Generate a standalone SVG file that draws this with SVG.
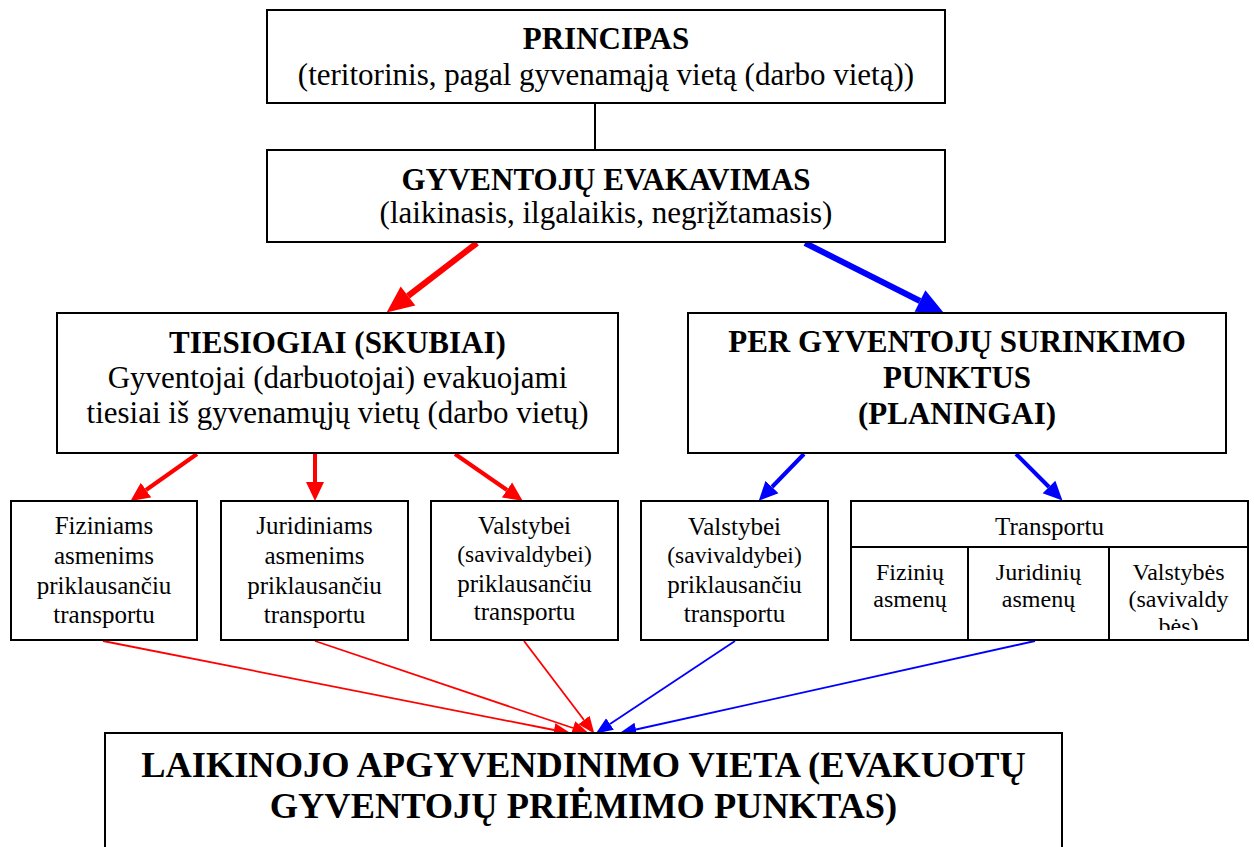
<svg xmlns="http://www.w3.org/2000/svg" width="1254" height="847" viewBox="0 0 1254 847">
<style>
.box{fill:#fff;stroke:#000;stroke-width:2}
.ln{stroke:#000;stroke-width:2}
text{font-family:"Liberation Serif","Times New Roman",serif;fill:#000;text-anchor:middle}
.b31{font-size:31px;font-weight:bold}
.r31{font-size:31px}
.b36{font-size:36.4px;font-weight:bold}
.s25{font-size:25px}
.s24{font-size:24px}
.s23{font-size:23.5px}
.rT{stroke:#f00;stroke-width:6;fill:none}
.bT{stroke:#00f;stroke-width:6;fill:none}
.rM{stroke:#f00;stroke-width:4;fill:none}
.bM{stroke:#00f;stroke-width:4;fill:none}
.rS{stroke:#f00;stroke-width:1.8;fill:none}
.bS{stroke:#00f;stroke-width:1.8;fill:none}
</style>
<defs>
<marker id="hRL" markerUnits="userSpaceOnUse" markerWidth="30" markerHeight="26" viewBox="0 -13 28 26" refX="0" refY="0" orient="auto"><path d="M0,-12 L27,0 L0,12 z" fill="#f00"/></marker>
<marker id="hBL" markerUnits="userSpaceOnUse" markerWidth="30" markerHeight="26" viewBox="0 -13 28 26" refX="0" refY="0" orient="auto"><path d="M0,-12 L27,0 L0,12 z" fill="#00f"/></marker>
<marker id="hRM" markerUnits="userSpaceOnUse" markerWidth="20" markerHeight="20" viewBox="0 -10 20 20" refX="0" refY="0" orient="auto"><path d="M0,-9 L19,0 L0,9 z" fill="#f00"/></marker>
<marker id="hBM" markerUnits="userSpaceOnUse" markerWidth="20" markerHeight="20" viewBox="0 -10 20 20" refX="0" refY="0" orient="auto"><path d="M0,-9 L19,0 L0,9 z" fill="#00f"/></marker>
<marker id="hRS" markerUnits="userSpaceOnUse" markerWidth="18" markerHeight="16" viewBox="0 -8 18 16" refX="0" refY="0" orient="auto"><path d="M0,-7 L17,0 L0,7 z" fill="#f00"/></marker>
<marker id="hBS" markerUnits="userSpaceOnUse" markerWidth="18" markerHeight="16" viewBox="0 -8 18 16" refX="0" refY="0" orient="auto"><path d="M0,-7 L17,0 L0,7 z" fill="#00f"/></marker>
<clipPath id="clipV"><rect x="1109" y="547" width="139" height="83"/></clipPath>
</defs>

<g id="connectors">
<line class="ln" x1="595" y1="103" x2="595" y2="150"/>
<line class="rT" x1="477" y1="243" x2="408" y2="296" marker-end="url(#hRL)"/>
<line class="bT" x1="805" y1="243" x2="920" y2="301" marker-end="url(#hBL)"/>
<line class="rM" x1="197" y1="454" x2="146" y2="490" marker-end="url(#hRM)"/>
<line class="rM" x1="315" y1="454" x2="315" y2="482" marker-end="url(#hRM)"/>
<line class="rM" x1="455" y1="454" x2="507" y2="490" marker-end="url(#hRM)"/>
<line class="bM" x1="804" y1="454" x2="772" y2="487" marker-end="url(#hBM)"/>
<line class="bM" x1="1016" y1="454" x2="1049" y2="487" marker-end="url(#hBM)"/>
<line class="rS" x1="103" y1="641" x2="554" y2="730" marker-end="url(#hRS)"/>
<line class="rS" x1="315" y1="641" x2="573" y2="728" marker-end="url(#hRS)"/>
<line class="rS" x1="524" y1="641" x2="584" y2="720" marker-end="url(#hRS)"/>
<line class="bS" x1="735" y1="641" x2="610" y2="724" marker-end="url(#hBS)"/>
<line class="bS" x1="1035" y1="641" x2="636" y2="729.5" marker-end="url(#hBS)"/>
</g>

<g id="principas">
<rect class="box" x="267" y="10" width="678" height="93"/>
<text class="b31" x="606" y="49">PRINCIPAS</text>
<text class="r31" x="606" y="85">(teritorinis, pagal gyvenamąją vietą (darbo vietą))</text>
</g>

<g id="evakavimas">
<rect class="box" x="267" y="150" width="678" height="92"/>
<text class="b31" x="606" y="190">GYVENTOJŲ EVAKAVIMAS</text>
<text class="r31" x="606" y="223">(laikinasis, ilgalaikis, negrįžtamasis)</text>
</g>

<g id="tiesiogiai">
<rect class="box" x="57" y="313" width="561" height="140"/>
<text class="b31" x="337.5" y="353">TIESIOGIAI (SKUBIAI)</text>
<text class="r31" x="337.5" y="388">Gyventojai (darbuotojai) evakuojami</text>
<text class="r31" x="337.5" y="423">tiesiai iš gyvenamųjų vietų (darbo vietų)</text>
</g>

<g id="planingai">
<rect class="box" x="688" y="313" width="538" height="140"/>
<text class="b31" x="957" y="352">PER GYVENTOJŲ SURINKIMO</text>
<text class="b31" x="957" y="388">PUNKTUS</text>
<text class="b31" x="957" y="424">(PLANINGAI)</text>
</g>

<g id="fiziniams">
<rect class="box" x="11" y="501" width="186" height="139"/>
<text class="s25" x="104" y="534">Fiziniams</text>
<text class="s25" x="104" y="564">asmenims</text>
<text class="s25" x="104" y="594">priklausančiu</text>
<text class="s25" x="104" y="623">transportu</text>
</g>

<g id="juridiniams">
<rect class="box" x="221" y="501" width="187" height="139"/>
<text class="s25" x="314.5" y="534">Juridiniams</text>
<text class="s25" x="314.5" y="564">asmenims</text>
<text class="s25" x="314.5" y="594">priklausančiu</text>
<text class="s25" x="314.5" y="623">transportu</text>
</g>

<g id="valstybei1">
<rect class="box" x="431" y="501" width="187" height="139"/>
<text class="s25" x="524.5" y="534">Valstybei</text>
<text class="s23" x="524.5" y="562">(savivaldybei)</text>
<text class="s25" x="524.5" y="592">priklausančiu</text>
<text class="s25" x="524.5" y="620">transportu</text>
</g>

<g id="valstybei2">
<rect class="box" x="641" y="501" width="187" height="139"/>
<text class="s25" x="734.5" y="535">Valstybei</text>
<text class="s23" x="734.5" y="563">(savivaldybei)</text>
<text class="s25" x="734.5" y="593">priklausančiu</text>
<text class="s25" x="734.5" y="622">transportu</text>
</g>

<g id="transportu">
<rect class="box" x="851" y="501" width="397" height="139"/>
<line class="ln" x1="851" y1="547" x2="1248" y2="547"/>
<line class="ln" x1="968" y1="547" x2="968" y2="640"/>
<line class="ln" x1="1109" y1="547" x2="1109" y2="640"/>
<text class="s25" x="1049.5" y="535">Transportu</text>
<text class="s24" x="910" y="580">Fizinių</text>
<text class="s24" x="910" y="607">asmenų</text>
<text class="s24" x="1038.5" y="580">Juridinių</text>
<text class="s24" x="1038.5" y="607">asmenų</text>
<g clip-path="url(#clipV)">
<text class="s24" x="1178.5" y="580">Valstybės</text>
<text class="s24" x="1178.5" y="607">(savivaldy</text>
<text class="s24" x="1178.5" y="634">bės)</text>
</g>
</g>

<g id="laikinojo">
<rect class="box" x="105" y="733" width="957" height="130"/>
<text class="b36" x="583.5" y="777">LAIKINOJO APGYVENDINIMO VIETA (EVAKUOTŲ</text>
<text class="b36" x="583.5" y="818">GYVENTOJŲ PRIĖMIMO PUNKTAS)</text>
</g>
</svg>
